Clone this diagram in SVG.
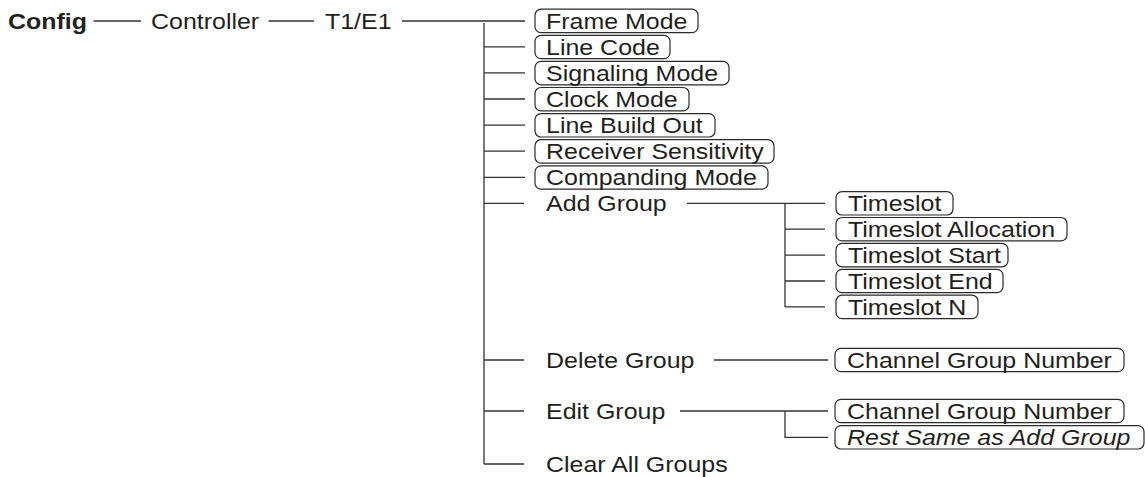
<svg xmlns="http://www.w3.org/2000/svg" width="1145" height="477" viewBox="0 0 1145 477">
<style>
text{font-family:"Liberation Sans",Arial,Helvetica,sans-serif;font-size:22.5px;fill:#231f20}
.b{font-weight:bold}
.i{font-style:italic}
.box{fill:#fff;stroke:#2b2b2b;stroke-width:1.2}
.ln{stroke:#333;stroke-width:1.3;fill:none}
</style>
<rect width="1145" height="477" fill="#fff"/>
<g id="connectors">
<path class="ln" d="M93.6 21H141M268.6 21H314M402 21H525"/>
<path class="ln" d="M484 23V464"/>
<path class="ln" d="M484 46.8H525M484 72.9H525M484 99H525M484 125.1H525M484 151.2H525M484 177.3H525M484 203.3H524M484 360H524M484 411H524M484 464H524"/>
<path class="ln" d="M687 203.3H825M785 203.3V306.9M785 229.2H825M785 255.1H825M785 281H825M785 306.9H825"/>
<path class="ln" d="M714 360H828"/>
<path class="ln" d="M680 411H828M785 411V437.3H828"/>
</g>
<g id="config"><text class="b" transform="translate(8 29) scale(1.11 1)">Config</text></g>
<g id="controller"><text transform="translate(151 29) scale(1.11 1)">Controller</text></g>
<g id="t1e1"><text transform="translate(325 29) scale(1.11 1)">T1/E1</text></g>
<g id="frame-mode"><rect class="box" x="535" y="9.2" width="163" height="23.4" rx="6"/><text transform="translate(546 28.6) scale(1.11 1)">Frame Mode</text></g>
<g id="line-code"><rect class="box" x="535" y="35.3" width="135" height="23.4" rx="6"/><text transform="translate(546 54.7) scale(1.11 1)">Line Code</text></g>
<g id="signaling-mode"><rect class="box" x="535" y="61.4" width="194" height="23.4" rx="6"/><text transform="translate(546 80.8) scale(1.11 1)">Signaling Mode</text></g>
<g id="clock-mode"><rect class="box" x="535" y="87.5" width="154" height="23.4" rx="6"/><text transform="translate(546 106.9) scale(1.11 1)">Clock Mode</text></g>
<g id="line-build-out"><rect class="box" x="535" y="113.6" width="180" height="23.4" rx="6"/><text transform="translate(546 133) scale(1.11 1)">Line Build Out</text></g>
<g id="receiver-sensitivity"><rect class="box" x="535" y="139.7" width="239" height="23.4" rx="6"/><text transform="translate(546 159.1) scale(1.11 1)">Receiver Sensitivity</text></g>
<g id="companding-mode"><rect class="box" x="535" y="165.8" width="233" height="23.4" rx="6"/><text transform="translate(546 185.2) scale(1.11 1)">Companding Mode</text></g>
<g id="add-group"><text transform="translate(546 211.3) scale(1.11 1)">Add Group</text></g>
<g id="timeslot"><rect class="box" x="836" y="191.6" width="117" height="23.4" rx="6"/><text transform="translate(848 211.1) scale(1.11 1)">Timeslot</text></g>
<g id="timeslot-allocation"><rect class="box" x="836" y="217.5" width="231" height="23.4" rx="6"/><text transform="translate(848 237) scale(1.11 1)">Timeslot Allocation</text></g>
<g id="timeslot-start"><rect class="box" x="836" y="243.4" width="172" height="23.4" rx="6"/><text transform="translate(848 262.9) scale(1.11 1)">Timeslot Start</text></g>
<g id="timeslot-end"><rect class="box" x="836" y="269.3" width="167" height="23.4" rx="6"/><text transform="translate(848 288.8) scale(1.11 1)">Timeslot End</text></g>
<g id="timeslot-n"><rect class="box" x="836" y="295.2" width="142" height="23.4" rx="6"/><text transform="translate(848 314.7) scale(1.11 1)">Timeslot N</text></g>
<g id="delete-group"><text transform="translate(546 368) scale(1.11 1)">Delete Group</text></g>
<g id="delete-channel-group-number"><rect class="box" x="835" y="348.3" width="289" height="23.4" rx="6"/><text transform="translate(847 367.8) scale(1.11 1)">Channel Group Number</text></g>
<g id="edit-group"><text transform="translate(546 419) scale(1.11 1)">Edit Group</text></g>
<g id="edit-channel-group-number"><rect class="box" x="835" y="399.3" width="289" height="23.4" rx="6"/><text transform="translate(847 418.8) scale(1.11 1)">Channel Group Number</text></g>
<g id="rest-same"><rect class="box" x="835" y="425.6" width="309" height="23.4" rx="6"/><text class="i" transform="translate(847 445.1) scale(1.11 1)">Rest Same as Add Group</text></g>
<g id="clear-all-groups"><text transform="translate(546 472) scale(1.11 1)">Clear All Groups</text></g>
</svg>
